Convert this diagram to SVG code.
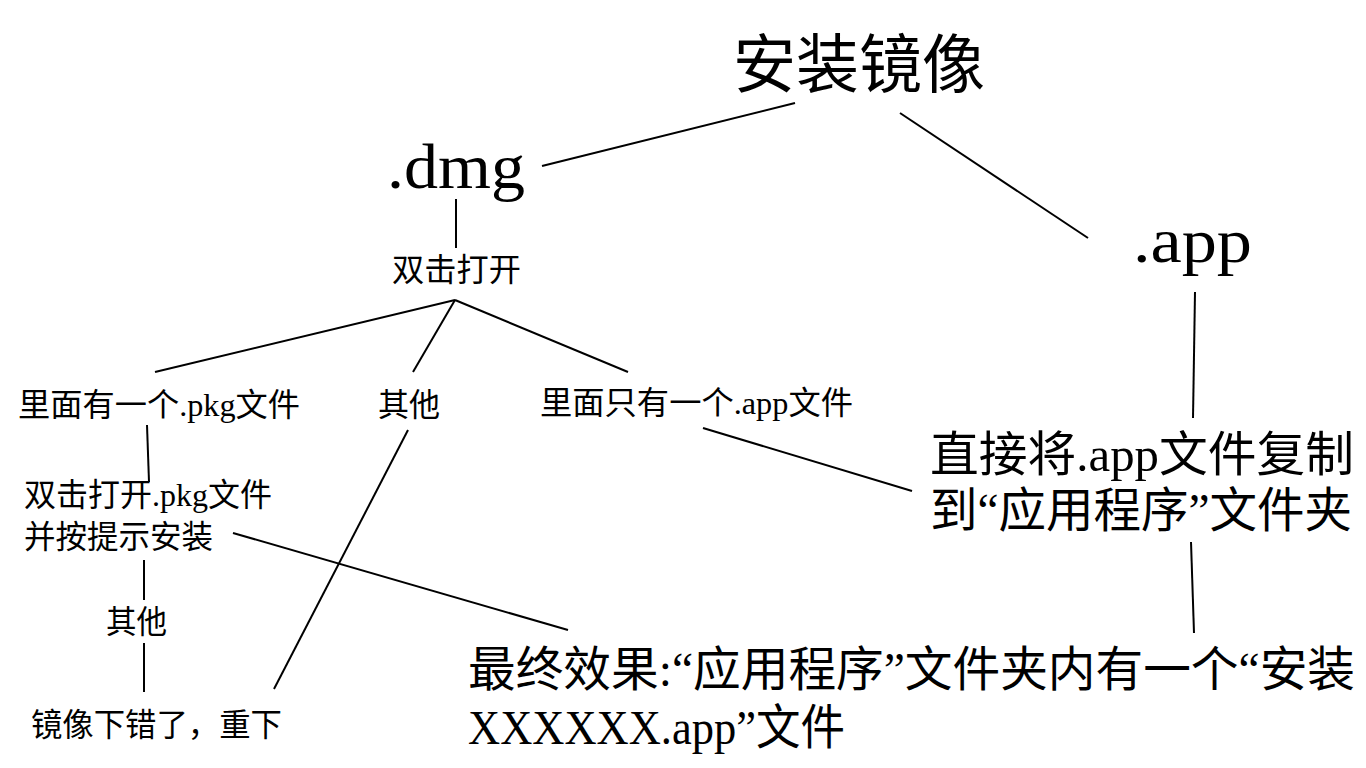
<svg xmlns="http://www.w3.org/2000/svg" width="1366" height="768" viewBox="0 0 1366 768">
<style>
text{font-family:"Liberation Serif","Noto Sans CJK SC",serif;fill:#000}
.s{font-size:32px}
.m{font-size:48px}
.l{font-size:64px}
#connectors line{stroke:#000;stroke-width:2;fill:none}
</style>
<rect width="1366" height="768" fill="#fff"/>
<g id="connectors">
<line x1="542" y1="166" x2="795" y2="103"/>
<line x1="900" y1="113" x2="1088" y2="238"/>
<line x1="456" y1="199" x2="456" y2="248"/>
<line x1="455" y1="300" x2="155" y2="372"/>
<line x1="455" y1="300" x2="413" y2="372"/>
<line x1="455" y1="300" x2="628" y2="372"/>
<line x1="1195" y1="292" x2="1193" y2="418"/>
<line x1="147" y1="425" x2="149" y2="482"/>
<line x1="408" y1="430" x2="274" y2="689"/>
<line x1="703" y1="428" x2="912" y2="491"/>
<line x1="233" y1="533" x2="568" y2="630"/>
<line x1="144" y1="560" x2="144" y2="600"/>
<line x1="144" y1="643" x2="144" y2="692"/>
<line x1="1191" y1="542" x2="1194" y2="633"/>
</g>
<g id="root"><text class="l" x="733" y="87" textLength="252" lengthAdjust="spacingAndGlyphs">安装镜像</text></g>
<g id="dmg"><text class="l" x="387" y="188" textLength="138" lengthAdjust="spacingAndGlyphs">.dmg</text></g>
<g id="app"><text class="l" x="1133" y="262" textLength="119" lengthAdjust="spacingAndGlyphs">.app</text></g>
<g id="dblclick"><text class="s" x="392" y="281" textLength="129" lengthAdjust="spacingAndGlyphs">双击打开</text></g>
<g id="pkg"><text class="s" x="18" y="416" textLength="282" lengthAdjust="spacingAndGlyphs">里面有一个.pkg文件</text></g>
<g id="other1"><text class="s" x="378" y="416" textLength="62" lengthAdjust="spacingAndGlyphs">其他</text></g>
<g id="onlyapp"><text class="s" x="540" y="414" textLength="313" lengthAdjust="spacingAndGlyphs">里面只有一个.app文件</text></g>
<g id="copy">
<text class="m" x="930" y="471" textLength="424" lengthAdjust="spacingAndGlyphs">直接将.app文件复制</text>
<text class="m" x="930" y="527" textLength="422" lengthAdjust="spacingAndGlyphs">到“应用程序”文件夹</text>
</g>
<g id="openpkg">
<text class="s" x="24" y="506" textLength="248" lengthAdjust="spacingAndGlyphs">双击打开.pkg文件</text>
<text class="s" x="24" y="548" textLength="189" lengthAdjust="spacingAndGlyphs">并按提示安装</text>
</g>
<g id="other2"><text class="s" x="106" y="633" textLength="61" lengthAdjust="spacingAndGlyphs">其他</text></g>
<g id="redownload"><text class="s" x="31" y="736" textLength="251" lengthAdjust="spacingAndGlyphs">镜像下错了，重下</text></g>
<g id="result">
<text class="m" x="468" y="686" textLength="887" lengthAdjust="spacingAndGlyphs">最终效果:“应用程序”文件夹内有一个“安装</text>
<text class="m" x="468" y="744" textLength="377" lengthAdjust="spacingAndGlyphs">XXXXXX.app”文件</text>
</g>
</svg>
